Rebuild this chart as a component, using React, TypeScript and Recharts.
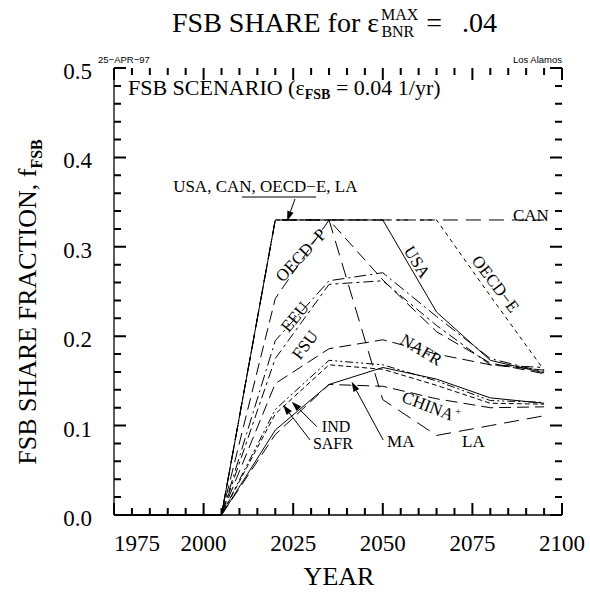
import React from 'react';
import { LineChart, Line, XAxis, YAxis, ReferenceLine, ReferenceDot } from 'recharts';

// ---------- data ----------
const YEARS = [1975, 1990, 2005, 2020, 2035, 2050, 2065, 2080, 2095];
const USA    = [0, 0, 0, 0.330, 0.330, 0.330, 0.227, 0.173, 0.159];
const CAN    = [0, 0, 0, 0.330, 0.330, 0.330, 0.330, 0.330, 0.330];
const OECD_E = [0, 0, 0, 0.330, 0.330, 0.330, 0.330, 0.245, 0.162];
const LA     = [0, 0, 0, 0.330, 0.330, 0.129, 0.089, 0.100, 0.111];
const OECD_P = [0, 0, 0, 0.242, 0.330, 0.263, 0.205, 0.170, 0.158];
const EEU    = [0, 0, 0, 0.195, 0.262, 0.271, 0.222, 0.175, 0.160];
const FSU    = [0, 0, 0, 0.175, 0.258, 0.262, 0.212, 0.168, 0.165];
const NAFR   = [0, 0, 0, 0.147, 0.186, 0.196, 0.180, 0.168, 0.162];
const IND    = [0, 0, 0, 0.118, 0.173, 0.168, 0.150, 0.128, 0.126];
const SAFR   = [0, 0, 0, 0.113, 0.168, 0.163, 0.145, 0.125, 0.124];
const MA     = [0, 0, 0, 0.095, 0.146, 0.165, 0.152, 0.131, 0.125];
const CHINA  = [0, 0, 0, 0.090, 0.146, 0.144, 0.130, 0.120, 0.121];

const X_TICKS = [1975, 1980, 1985, 1990, 1995, 2000, 2005, 2010, 2015, 2020, 2025, 2030, 2035, 2040, 2045, 2050, 2055, 2060, 2065, 2070, 2075, 2080, 2085, 2090, 2095, 2100];
const X_LABELS = [1975, 2000, 2025, 2050, 2075, 2100];
const Y_TICKS = [0, 0.02, 0.04, 0.06, 0.08, 0.1, 0.12, 0.14, 0.16, 0.18, 0.2, 0.22, 0.24, 0.26, 0.28, 0.3, 0.32, 0.34, 0.36, 0.38, 0.4, 0.42, 0.44, 0.46, 0.48, 0.5];
const Y_LABELS = ['0.0', '0.1', '0.2', '0.3', '0.4', '0.5'];

const X_MIN = 1975;
const X_MAX = 2100;
const Y_MIN = 0;
const Y_MAX = 0.5;

const SERIES = [
  { key: 'CAN', values: CAN, dash: '15 8' },
  { key: 'OECD_E', values: OECD_E, dash: '4 4' },
  { key: 'LA', values: LA, dash: '15 8' },
  { key: 'OECD_P', values: OECD_P, dash: '12 6' },
  { key: 'EEU', values: EEU, dash: '12 4 2 4' },
  { key: 'FSU', values: FSU, dash: '10 4 3 4' },
  { key: 'NAFR', values: NAFR, dash: '12 6' },
  { key: 'IND', values: IND, dash: '8 3 2 3 2 3' },
  { key: 'SAFR', values: SAFR, dash: '5 3' },
  { key: 'CHINA', values: CHINA, dash: '12 6' },
  { key: 'MA', values: MA, dash: undefined },
  { key: 'USA', values: USA, dash: undefined },
];

const DATA = YEARS.map((year, i) => {
  const row: Record<string, number> = { year };
  SERIES.forEach((s) => { row[s.key] = s.values[i]; });
  return row;
});

// region labels (data coordinates)
const LABELS = [
  { text: 'USA, CAN, OECD\u2212E, LA', year: 1991.5, value: 0.3613, angle: 0, anchor: 'start', size: 17 },
  { text: 'OECD\u2212P', year: 2027.2, value: 0.2905, angle: -47, anchor: 'middle', size: 17 },
  { text: 'EEU', year: 2025.5, value: 0.2215, angle: -50, anchor: 'middle', size: 17 },
  { text: 'FSU', year: 2028.3, value: 0.1902, angle: -53, anchor: 'middle', size: 17 },
  { text: 'USA', year: 2059.5, value: 0.283, angle: 58, anchor: 'middle', size: 17 },
  { text: 'OECD\u2212E', year: 2081.4, value: 0.2584, angle: 53, anchor: 'middle', size: 17 },
  { text: 'CAN', year: 2086.3, value: 0.3289, angle: 0, anchor: 'start', size: 17 },
  { text: 'NAFR', year: 2060.7, value: 0.1846, angle: 31, anchor: 'middle', size: 17 },
  { text: 'CHINA', year: 2062.6, value: 0.1219, angle: 21, anchor: 'middle', size: 17 },
  { text: 'IND', year: 2033.0, value: 0.0930, angle: 0, anchor: 'start', size: 16 },
  { text: 'SAFR', year: 2030.5, value: 0.0738, angle: 0, anchor: 'start', size: 16 },
  { text: 'MA', year: 2051.2, value: 0.0761, angle: 0, anchor: 'start', size: 17 },
  { text: 'LA', year: 2072.1, value: 0.0761, angle: 0, anchor: 'start', size: 17 },
];

const PLUS_MARK = { year: 2071.0, value: 0.116 };
const SCENARIO_POS = { year: 1978.9, value: 0.4698 };

const UNDERLINE = [{ x: 2010.7, y: 0.3557 }, { x: 2031.4, y: 0.3557 }];
const ARROWS = [
  [{ x: 2025.5, y: 0.3535 }, { x: 2023.3, y: 0.3289 }],
  [{ x: 2031.6, y: 0.0988 }, { x: 2024.6, y: 0.1267 }],
  [{ x: 2029.7, y: 0.0839 }, { x: 2022.2, y: 0.123 }],
  [{ x: 2050.1, y: 0.0839 }, { x: 2041.3, y: 0.1491 }],
];

const isMajorY = (v: number) => Math.abs(v * 10 - Math.round(v * 10)) < 1e-6;

const SERIF = '"Liberation Serif", "Times New Roman", serif';
const SANS = '"Liberation Sans", Arial, sans-serif';
const TICK_W = 2;
const MAJOR_LEN = 12;
const MINOR_LEN = 7;

// tick marks for the bottom and top edges are drawn by the bottom axis tick renderer
// (top edge sits exactly one plot-height above); same for left/right via the left axis.
const PLOT_H = 447;
const PLOT_W = 448;

const BottomTick = (p: any) => {
  const v = p.payload.value;
  const major = X_LABELS.includes(v);
  const len = major ? MAJOR_LEN : MINOR_LEN;
  const x = Number(p.x);
  const y = Number(p.y);
  return (
    <g>
      <path d={`M${x} ${y}V${y - len}M${x} ${y - PLOT_H}V${y - PLOT_H + len}`} stroke="#000" strokeWidth={TICK_W} fill="none" />
      {major && (
        <text
          x={x}
          y={y + 36}
          textAnchor={v === X_LABELS[0] ? 'start' : 'middle'}
          fontFamily={SERIF}
          fontSize={23}
          fill="#000"
          stroke="none"
        >
          {String(v)}
        </text>
      )}
    </g>
  );
};

const LeftTick = (p: any) => {
  const v = p.payload.value;
  const major = isMajorY(v);
  const len = major ? MAJOR_LEN : MINOR_LEN;
  const x = Number(p.x);
  const y = Number(p.y);
  return (
    <g>
      <path d={`M${x} ${y}H${x + len}M${x + PLOT_W} ${y}H${x + PLOT_W - len}`} stroke="#000" strokeWidth={TICK_W} fill="none" />
      {major && (
        <text x={x - 22} y={y + 11} textAnchor="end" fontFamily={SERIF} fontSize={23} fill="#000" stroke="none">
          {Y_LABELS[Math.round(v * 10)]}
        </text>
      )}
    </g>
  );
};

const EmptyTick = () => <g />;

const arrowShape = (p: any) => {
  const { x1, y1, x2, y2 } = p;
  const ang = Math.atan2(y2 - y1, x2 - x1);
  const L = 10;
  const W = 3.3;
  const bx = x2 - L * Math.cos(ang);
  const by = y2 - L * Math.sin(ang);
  const px = -Math.sin(ang) * W;
  const py = Math.cos(ang) * W;
  return (
    <g>
      <line x1={x1} y1={y1} x2={bx} y2={by} stroke="#000" strokeWidth={1} />
      <polygon points={`${x2},${y2} ${bx + px},${by + py} ${bx - px},${by - py}`} fill="#000" />
    </g>
  );
};

const makeLabelShape = (lab: any) => (p: any) => {
  const rotated = lab.angle !== 0;
  return (
    <text
      x={p.cx}
      y={p.cy}
      textAnchor={lab.anchor}
      dominantBaseline={rotated ? 'central' : 'alphabetic'}
      transform={rotated ? `rotate(${lab.angle} ${p.cx} ${p.cy})` : undefined}
      fontFamily={SERIF}
      fontSize={lab.size}
      fill="#000"
    >
      {lab.text}
    </text>
  );
};

const plusShape = (p: any) => (
  <text x={p.cx} y={p.cy} textAnchor="middle" dominantBaseline="central" fontFamily={SERIF} fontSize={11} fill="#000">
    +
  </text>
);

const scenarioShape = (p: any) => (
  <text x={p.cx} y={p.cy} fontFamily={SERIF} fontSize={22} fill="#000">
    FSB SCENARIO ({'\u03B5'}
    <tspan fontSize={14} fontWeight="bold" dy={4}>FSB</tspan>
    <tspan dy={-4}> = 0.04 1/yr)</tspan>
  </text>
);

export default function App() {
  const axisLine = { stroke: '#000', strokeWidth: 1.3 };
  return (
    <div style={{ position: 'absolute', left: 0, top: 0, width: 590, height: 592, background: '#fff' }}>
      <LineChart
        width={590}
        height={592}
        data={DATA}
        margin={{ top: 68, right: 28, bottom: 0, left: 0 }}
      >
        <XAxis
          dataKey="year"
          type="number"
          domain={[X_MIN, X_MAX]}
          ticks={X_TICKS}
          interval={0}
          height={77}
          tickSize={0}
          tickMargin={0}
          tickLine={false}
          axisLine={axisLine}
          tick={<BottomTick />}
        />
        <XAxis
          xAxisId="top"
          orientation="top"
          type="number"
          domain={[X_MIN, X_MAX]}
          ticks={X_LABELS}
          interval={0}
          height={0}
          tickSize={0}
          tickLine={false}
          axisLine={axisLine}
          tick={<EmptyTick />}
        />
        <YAxis
          type="number"
          domain={[Y_MIN, Y_MAX]}
          ticks={Y_TICKS}
          interval={0}
          width={114}
          tickSize={0}
          tickMargin={0}
          tickLine={false}
          axisLine={axisLine}
          tick={<LeftTick />}
        />
        <YAxis
          yAxisId="right"
          orientation="right"
          type="number"
          domain={[Y_MIN, Y_MAX]}
          ticks={Y_LABELS.map(Number)}
          interval={0}
          width={0}
          tickSize={0}
          tickLine={false}
          axisLine={axisLine}
          tick={<EmptyTick />}
        />
        {SERIES.map((s) => (
          <Line
            key={s.key}
            dataKey={s.key}
            type="linear"
            stroke="#000"
            strokeWidth={1}
            strokeDasharray={s.dash}
            dot={false}
            activeDot={false}
            isAnimationActive={false}
          />
        ))}
        <ReferenceLine segment={UNDERLINE} stroke="#000" strokeWidth={1} />
        {ARROWS.map((seg, i) => (
          <ReferenceLine key={'a' + i} segment={seg} shape={arrowShape} />
        ))}
        {LABELS.map((lab, i) => (
          <ReferenceDot key={'l' + i} x={lab.year} y={lab.value} r={0} shape={makeLabelShape(lab)} />
        ))}
        <ReferenceDot x={PLUS_MARK.year} y={PLUS_MARK.value} r={0} shape={plusShape} />
        <ReferenceDot x={SCENARIO_POS.year} y={SCENARIO_POS.value} r={0} shape={scenarioShape} />
      </LineChart>
      <svg width={590} height={66} style={{ position: 'absolute', left: 0, top: 0, pointerEvents: 'none' }}>
        <text x={172} y={32} fontFamily={SERIF} fontSize={28} fill="#000">
          FSB SHARE for {'\u03B5'}
          <tspan fontSize={16} dy={-12} dx={2}>MAX</tspan>
          <tspan fontSize={16} dx={-37} dy={17}>BNR</tspan>
          <tspan dx={12} dy={-5}>=</tspan>
          <tspan dx={20}>.04</tspan>
        </text>
        <text x={98} y={63} fontFamily={SANS} fontSize={9.5} fill="#000">25{'\u2212'}APR{'\u2212'}97</text>
        <text x={562} y={63} textAnchor="end" fontFamily={SANS} fontSize={9.5} fill="#000">Los Alamos</text>
      </svg>
      <svg width={56} height={592} style={{ position: 'absolute', left: 0, top: 0, pointerEvents: 'none' }}>
        <text
          x={36}
          y={302}
          transform="rotate(-90 36 302)"
          textAnchor="middle"
          fontFamily={SERIF}
          fontSize={26}
          fill="#000"
        >
          FSB SHARE FRACTION, f
          <tspan fontSize={16} fontWeight="bold" dy={6}>FSB</tspan>
        </text>
      </svg>
      <svg width={590} height={36} style={{ position: 'absolute', left: 0, top: 556, pointerEvents: 'none' }}>
        <text x={339} y={29} textAnchor="middle" fontFamily={SERIF} fontSize={26} fill="#000">YEAR</text>
      </svg>
    </div>
  );
}
